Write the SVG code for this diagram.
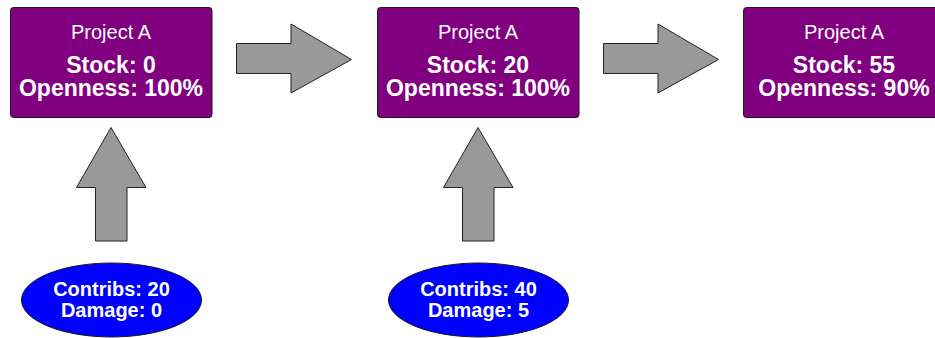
<svg xmlns="http://www.w3.org/2000/svg" width="935" height="338" viewBox="0 0 935 338">
  <style>
    .box { fill: #800080; stroke: #1a1a1a; stroke-width: 1; }
    .pool { fill: #0000ff; stroke: #1a1a1a; stroke-width: 1; }
    .arrow { fill: #999999; stroke: #222222; stroke-width: 1; stroke-linejoin: miter; }
    text { font-family: "Liberation Sans", Arial, sans-serif; fill: #ffffff; text-anchor: middle; }
    .title { font-size: 20px; }
    .big { font-size: 23px; font-weight: bold; }
    .small { font-size: 20px; font-weight: bold; }
  </style>
  <defs>
    <polygon id="rightArrow" points="0,33.5 54.5,33.5 54.5,14 115,49.5 54.5,83 54.5,63.5 0,63.5"/>
    <polygon id="upArrow" points="111,127.5 146,187.5 127,187.5 127,241 95.5,241 95.5,187.5 76.5,187.5"/>
  </defs>

  <g id="connectors">
    <use href="#rightArrow" class="arrow" x="236.5" y="10"/>
    <use href="#rightArrow" class="arrow" x="603.5" y="10"/>
    <use href="#upArrow" class="arrow" x="0" y="0"/>
    <use href="#upArrow" class="arrow" x="367" y="0"/>
  </g>

  <g id="project-1">
    <rect class="box" x="10.5" y="7.5" width="201.5" height="110" rx="3"/>
    <text class="title" x="111" y="38.5">Project A</text>
    <text class="big" x="111" y="73">Stock: 0</text>
    <text class="big" x="111" y="96">Openness: 100%</text>
  </g>

  <g id="project-2">
    <rect class="box" x="377.5" y="7.5" width="201.5" height="110" rx="3"/>
    <text class="title" x="478" y="38.5">Project A</text>
    <text class="big" x="478" y="73">Stock: 20</text>
    <text class="big" x="478" y="96">Openness: 100%</text>
  </g>

  <g id="project-3">
    <rect class="box" x="743.5" y="7.5" width="201.5" height="110" rx="3"/>
    <text class="title" x="844" y="38.5">Project A</text>
    <text class="big" x="844" y="73">Stock: 55</text>
    <text class="big" x="844" y="96">Openness: 90%</text>
  </g>

  <g id="contrib-1">
    <ellipse class="pool" cx="111.5" cy="300" rx="90" ry="37"/>
    <text class="small" x="111.5" y="296">Contribs: 20</text>
    <text class="small" x="111.5" y="317">Damage: 0</text>
  </g>

  <g id="contrib-2">
    <ellipse class="pool" cx="478.5" cy="300" rx="90" ry="37"/>
    <text class="small" x="478.5" y="296">Contribs: 40</text>
    <text class="small" x="478.5" y="317">Damage: 5</text>
  </g>
</svg>
